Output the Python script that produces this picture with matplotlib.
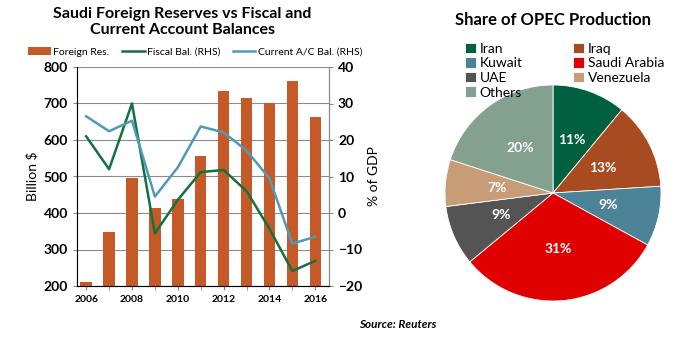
import numpy as np
import matplotlib.pyplot as plt

years = [2006, 2007, 2008, 2009, 2010, 2011, 2012, 2013, 2014, 2015, 2016]
reserves = [212, 347, 495, 415, 437, 556, 735, 715, 700, 762, 662]
fiscal = [21, 12, 30, -5.6, 3.6, 11.2, 11.8, 6, -4.3, -15.9, -13.1]
current_ac = [26.5, 22.4, 25.3, 4.5, 12.5, 23.7, 22.1, 17.1, 9.5, -8.4, -6.5]

countries = ['Iran', 'Iraq', 'Kuwait', 'Saudi Arabia', 'UAE', 'Venezuela', 'Others']
shares = [11, 13, 9, 31, 9, 7, 20]
pie_colors = ['#00603F', '#A94B20', '#4C8397', '#E00000', '#545454', '#C79C76', '#84A08F']

plt.rcParams['font.family'] = ['Lato', 'DejaVu Sans']

fig = plt.figure(figsize=(7, 3.48), dpi=100)

# --- left: reserves vs balances ---
ax = fig.add_axes([77 / 700, 1 - 286 / 348, 252 / 700, 219 / 348])
ax.bar(years, reserves, width=0.5, color='#C55A28', label='Foreign Res.', zorder=2)
ax.set_ylim(200, 800)
ax.set_xlim(2005.6, 2016.6)
ax.set_yticks(range(200, 801, 100))
ax.yaxis.grid(True, color='#8c8c8c', linewidth=0.8, zorder=0)
ax.set_axisbelow(True)
ax.set_xticks(years[::2])
ax.set_xticks(years, minor=True)
ax.tick_params(axis='x', which='both', length=3, color='#888888', labelsize=7.5)
ax.tick_params(axis='y', length=3, color='#888888', labelsize=10)
for lab in ax.get_xticklabels() + ax.get_yticklabels():
    lab.set_fontweight('bold')
ax.spines['top'].set_visible(False)
for s in ['left', 'right', 'bottom']:
    ax.spines[s].set_color('#888888')
ax.set_ylabel('Billion $', fontsize=10, labelpad=4)

ax2 = ax.twinx()
ax2.plot(years, fiscal, color='#13703F', linewidth=1.8, label='Fiscal Bal. (RHS)')
ax2.plot(years, current_ac, color='#4E9BB6', linewidth=1.8, label='Current A/C Bal. (RHS)')
ax2.set_ylim(-20, 40)
ax2.set_yticks(range(-20, 41, 10))
ax2.tick_params(axis='y', length=3, color='#888888', labelsize=10)
for lab in ax2.get_yticklabels():
    lab.set_fontweight('bold')
ax2.spines['top'].set_visible(False)
ax2.spines['right'].set_color('#888888')
ax2.set_ylabel('% of GDP', fontsize=10, labelpad=4)

h1, l1 = ax.get_legend_handles_labels()
h2, l2 = ax2.get_legend_handles_labels()
fig.legend(h1 + h2, l1 + l2, loc='center', bbox_to_anchor=(195 / 700, 1 - 52 / 348),
           ncol=3, fontsize=7.5, frameon=False, handlelength=2.2, handletextpad=0.2,
           columnspacing=1.2)

fig.text(182 / 700, 1 - 22 / 348, 'Saudi Foreign Reserves vs Fiscal and\nCurrent Account Balances',
         ha='center', va='center', fontsize=11.5, fontweight='bold', linespacing=1.15)

# --- right: OPEC share pie ---
pax = fig.add_axes([(553 - 108) / 700, 1 - (193 + 108) / 348, 216 / 700, 216 / 348])
wedges, _, autotexts = pax.pie(shares, colors=pie_colors, startangle=90, counterclock=False,
                               autopct='%d%%', pctdistance=0.52, radius=1,
                               wedgeprops=dict(edgecolor='white', linewidth=0.6))
for t in autotexts:
    t.set_color('white')
    t.set_fontweight('bold')
    t.set_fontsize(10)
pax.set_xlim(-1, 1)
pax.set_ylim(-1, 1)
pax.set_aspect('equal')
for w in wedges:
    w.set_clip_on(False)

# legend filled row by row like the original
order = [0, 2, 4, 6, 1, 3, 5]
fig.legend([wedges[i] for i in order], [countries[i] for i in order], loc='upper left',
           bbox_to_anchor=(452 / 700, 1 - 30 / 348),
           ncol=2, fontsize=10, frameon=False, handlelength=0.8, handleheight=0.8,
           handletextpad=0.3, columnspacing=3.6, labelspacing=0.18)

fig.text(553 / 700, 1 - 20 / 348, 'Share of OPEC Production', ha='center', va='center',
         fontsize=12, fontweight='bold')

fig.text(398 / 700, 1 - 324 / 348, 'Source: Reuters', ha='center', va='center',
         fontsize=8.5, fontweight='bold', fontstyle='italic')

fig.savefig('out.png', dpi=100)
